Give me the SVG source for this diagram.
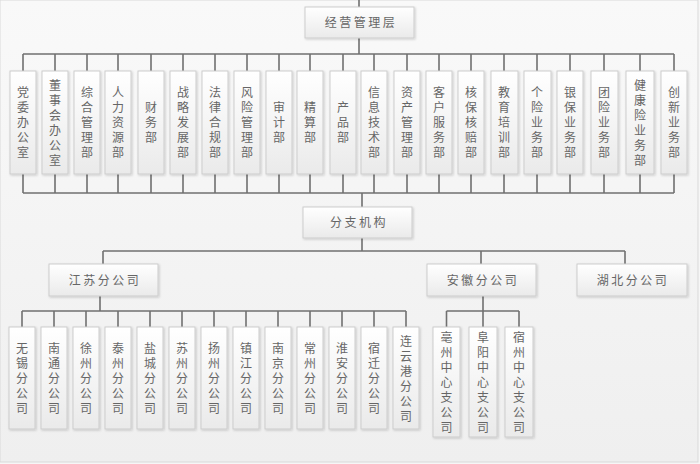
<svg xmlns="http://www.w3.org/2000/svg" width="700" height="464" viewBox="0 0 700 464">
<defs>
<linearGradient id="bg" x1="0" y1="0" x2="0" y2="1"><stop offset="0" stop-color="#f9f9f9"/><stop offset="1" stop-color="#efefef"/></linearGradient>
<linearGradient id="bx" x1="0" y1="0" x2="0" y2="1"><stop offset="0" stop-color="#ffffff"/><stop offset="1" stop-color="#eaeaea"/></linearGradient>
<filter id="sh" x="-20%" y="-20%" width="140%" height="140%"><feDropShadow dx="1" dy="1" stdDeviation="0.8" flood-color="#000" flood-opacity="0.18"/></filter>
<style>
.b{fill:url(#bx);stroke:#cdcdcd;stroke-width:1;filter:url(#sh)}
.t{font-family:"Noto Sans CJK SC","Noto Sans CJK JP",sans-serif;font-size:12px;fill:#666666;text-anchor:middle}
.h{letter-spacing:2.5px}
.v{writing-mode:vertical-rl;letter-spacing:3px}
.c{fill:none;stroke:#707070;stroke-width:1.6}
</style>
</defs>
<rect x="0" y="0" width="700" height="464" fill="#f6f6f6"/>
<rect x="0" y="0" width="698" height="462" fill="url(#bg)" stroke="#d9d9d9" stroke-width="1"/>
<g id="connectors" class="c">
<path d="M359 0V7M359 38V54M23 54H674"/>
<path d="M23 54V71M55 54V71M87 54V71M118 54V71M151 54V71M183 54V71M215 54V71M247 54V71M279 54V71M310 54V71M343 54V71M374 54V71M407 54V71M439 54V71M471 54V71M504 54V71M537 54V71M570 54V71M604 54V71M640 54V71M674 54V71"/>
<path d="M23 174V193M55 174V193M87 174V193M118 174V193M151 174V193M183 174V193M215 174V193M247 174V193M279 174V193M310 174V193M343 174V193M374 174V193M407 174V193M439 174V193M471 174V193M504 174V193M537 174V193M570 174V193M604 174V193M640 174V193M674 174V193M23 193H674"/>
<path d="M362 193V207M362 238V251M103 251H625M103 251V264M481 251V264M625 251V264"/>
<path d="M100 296V311M22 311H406M22 311V327M54 311V327M86 311V327M118 311V327M150 311V327M182 311V327M214 311V327M246 311V327M278 311V327M310 311V327M342 311V327M374 311V327M406 311V327"/>
<path d="M483 296V311M446.5 311H519M446.5 311V327M483 311V327M519 311V327"/>
</g>
<g id="n-top"><rect class="b" x="305" y="7" width="109" height="31"/><text class="t h" x="361" y="27">经营管理层</text></g>
<g id="n-d1"><rect class="b" x="10" y="71" width="26" height="103"/><text class="t v" x="23" y="124">党委办公室</text></g>
<g id="n-d2"><rect class="b" x="42" y="71" width="26" height="103"/><text class="t v" x="55" y="124">董事会办公室</text></g>
<g id="n-d3"><rect class="b" x="74" y="71" width="26" height="103"/><text class="t v" x="87" y="124">综合管理部</text></g>
<g id="n-d4"><rect class="b" x="105" y="71" width="26" height="103"/><text class="t v" x="118" y="124">人力资源部</text></g>
<g id="n-d5"><rect class="b" x="138" y="71" width="26" height="103"/><text class="t v" x="151" y="124">财务部</text></g>
<g id="n-d6"><rect class="b" x="170" y="71" width="26" height="103"/><text class="t v" x="183" y="124">战略发展部</text></g>
<g id="n-d7"><rect class="b" x="202" y="71" width="26" height="103"/><text class="t v" x="215" y="124">法律合规部</text></g>
<g id="n-d8"><rect class="b" x="234" y="71" width="26" height="103"/><text class="t v" x="247" y="124">风险管理部</text></g>
<g id="n-d9"><rect class="b" x="266" y="71" width="26" height="103"/><text class="t v" x="279" y="124">审计部</text></g>
<g id="n-d10"><rect class="b" x="297" y="71" width="26" height="103"/><text class="t v" x="310" y="124">精算部</text></g>
<g id="n-d11"><rect class="b" x="330" y="71" width="26" height="103"/><text class="t v" x="343" y="124">产品部</text></g>
<g id="n-d12"><rect class="b" x="361" y="71" width="26" height="103"/><text class="t v" x="374" y="124">信息技术部</text></g>
<g id="n-d13"><rect class="b" x="394" y="71" width="26" height="103"/><text class="t v" x="407" y="124">资产管理部</text></g>
<g id="n-d14"><rect class="b" x="426" y="71" width="26" height="103"/><text class="t v" x="439" y="124">客户服务部</text></g>
<g id="n-d15"><rect class="b" x="458" y="71" width="26" height="103"/><text class="t v" x="471" y="124">核保核赔部</text></g>
<g id="n-d16"><rect class="b" x="491" y="71" width="27" height="103"/><text class="t v" x="504" y="124">教育培训部</text></g>
<g id="n-d17"><rect class="b" x="524" y="71" width="27" height="103"/><text class="t v" x="537" y="124">个险业务部</text></g>
<g id="n-d18"><rect class="b" x="557" y="71" width="26" height="103"/><text class="t v" x="570" y="124">银保业务部</text></g>
<g id="n-d19"><rect class="b" x="591" y="71" width="27" height="103"/><text class="t v" x="604" y="124">团险业务部</text></g>
<g id="n-d20"><rect class="b" x="626" y="71" width="28" height="103"/><text class="t v" x="640" y="124">健康险业务部</text></g>
<g id="n-d21"><rect class="b" x="661" y="71" width="26" height="103"/><text class="t v" x="674" y="124">创新业务部</text></g>
<g id="n-branch"><rect class="b" x="303" y="207" width="109" height="31"/><text class="t h" x="359" y="227">分支机构</text></g>
<g id="n-js"><rect class="b" x="49" y="264" width="109" height="32"/><text class="t h" x="105" y="285">江苏分公司</text></g>
<g id="n-ah"><rect class="b" x="427" y="264" width="109" height="32"/><text class="t h" x="483" y="285">安徽分公司</text></g>
<g id="n-hb"><rect class="b" x="577" y="264" width="110" height="32"/><text class="t h" x="633" y="285">湖北分公司</text></g>
<g id="n-js1"><rect class="b" x="9" y="327" width="26" height="102"/><text class="t v" x="22" y="380">无锡分公司</text></g>
<g id="n-js2"><rect class="b" x="41" y="327" width="26" height="102"/><text class="t v" x="54" y="380">南通分公司</text></g>
<g id="n-js3"><rect class="b" x="73" y="327" width="26" height="102"/><text class="t v" x="86" y="380">徐州分公司</text></g>
<g id="n-js4"><rect class="b" x="105" y="327" width="26" height="102"/><text class="t v" x="118" y="380">泰州分公司</text></g>
<g id="n-js5"><rect class="b" x="137" y="327" width="26" height="102"/><text class="t v" x="150" y="380">盐城分公司</text></g>
<g id="n-js6"><rect class="b" x="169" y="327" width="26" height="102"/><text class="t v" x="182" y="380">苏州分公司</text></g>
<g id="n-js7"><rect class="b" x="201" y="327" width="26" height="102"/><text class="t v" x="214" y="380">扬州分公司</text></g>
<g id="n-js8"><rect class="b" x="233" y="327" width="26" height="102"/><text class="t v" x="246" y="380">镇江分公司</text></g>
<g id="n-js9"><rect class="b" x="265" y="327" width="26" height="102"/><text class="t v" x="278" y="380">南京分公司</text></g>
<g id="n-js10"><rect class="b" x="297" y="327" width="26" height="102"/><text class="t v" x="310" y="380">常州分公司</text></g>
<g id="n-js11"><rect class="b" x="329" y="327" width="26" height="102"/><text class="t v" x="342" y="380">淮安分公司</text></g>
<g id="n-js12"><rect class="b" x="361" y="327" width="26" height="102"/><text class="t v" x="374" y="380">宿迁分公司</text></g>
<g id="n-js13"><rect class="b" x="393" y="327" width="26" height="102"/><text class="t v" x="406" y="380">连云港分公司</text></g>
<g id="n-ah1"><rect class="b" x="433" y="327" width="27" height="110"/><text class="t v" x="446.5" y="384">亳州中心支公司</text></g>
<g id="n-ah2"><rect class="b" x="469" y="327" width="28" height="110"/><text class="t v" x="483" y="384">阜阳中心支公司</text></g>
<g id="n-ah3"><rect class="b" x="505" y="327" width="28" height="110"/><text class="t v" x="519" y="384">宿州中心支公司</text></g>
</svg>
